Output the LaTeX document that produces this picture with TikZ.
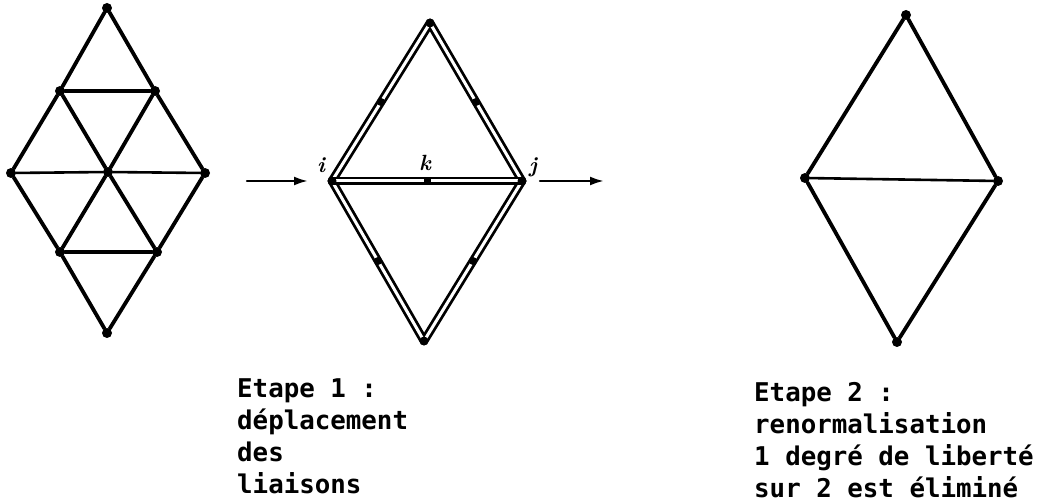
\documentclass[tikz,border=0pt]{standalone}
\usepackage{fontspec}
\setmonofont{DejaVu Sans Mono}
\usetikzlibrary{arrows.meta,calc}
\begin{document}
\begin{tikzpicture}[x=1pt,y=-1pt,line cap=round,line join=round,
  pt/.style={circle,fill,inner sep=0pt,minimum size=10pt},
  bond/.style={line width=3.8pt},
  thin bond/.style={line width=2.6pt},
  dbond/.style={double,line width=2.8pt,double distance=3pt},
  flow/.style={line width=2.4pt,-{Latex[length=14pt,width=9pt]}},
  lab/.style={font=\fontsize{22}{22}\selectfont\bfseries\itshape,inner sep=0pt},
  txt/.style={font=\fontsize{25.8}{32}\selectfont\ttfamily\bfseries,anchor=base west,inner sep=0pt}]
\useasboundingbox (0,0) rectangle (1049,502);
% reseau triangulaire de depart
\foreach \n/\x/\y in {lt/107/8,l1/60/91,l2/155/91,ll/11/173,lc/108/172,lr/205/173,l3/60/252,l4/157/252,lb/107/333}
  {\node[pt] (\n) at (\x,\y) {};}
\foreach \a/\b in {lt/l1,lt/l2,l1/l2,l1/ll,l1/lc,l2/lc,l2/lr,ll/l3,lc/l3,lc/l4,lr/l4,l3/l4,l3/lb,l4/lb}
  {\draw[bond] (\a) -- (\b);}
\draw[thin bond] (ll) -- (lc) -- (lr);
% etape 1 : liaisons deplacees
\coordinate (mt) at (430,23); \coordinate (ml) at (332,181);
\coordinate (mr) at (522,181); \coordinate (mb) at (424,341);
\draw[dbond] (mt) -- (ml) -- (mb) -- (mr) -- cycle;
\draw[dbond] (ml) -- (mr);
\foreach \a/\b [count=\k] in {mt/ml,mt/mr,mb/ml,mb/mr}
  {\node[circle,fill,inner sep=0pt,minimum size=8pt] (d\k) at ($(\a)!0.5!(\b)$) {};}
\node[rectangle,fill,inner sep=0pt,minimum size=7pt] (mc) at ($(ml)!0.5!(mr)$) {};
\foreach \n in {mt,ml,mr,mb} {\fill (\n) circle (4.5pt);}
\node[lab] (li) at (321,165) {i};
\node[lab] (lk) at (425,163) {k};
\node[lab] (lj) at (533,167) {j};
\coordinate (in) at (247,181); \coordinate (out) at (604,181);
\draw[flow,shorten >=24pt] (in) -- (ml);
\draw[flow,shorten <=18pt] (mr) -- (out);
% etape 2 : renormalisation
\foreach \n/\x/\y in {rt/906/15,rl/805/178,rr/998/181,rb/897/342}
  {\node[pt] (\n) at (\x,\y) {};}
\foreach \a/\b in {rt/rl,rt/rr,rl/rb,rr/rb}
  {\draw[bond] (\a) -- (\b);}
\draw[thin bond] (rl) -- (rr);
% legendes
\foreach \t [count=\k] in {Etape 1 :,déplacement,des,liaisons}
  {\node[txt] (e\k) at (237,365+32*\k) {\t};}
\foreach \t [count=\k] in {Etape 2 :,renormalisation,1 degré de liberté,sur 2 est éliminé}
  {\node[txt] (f\k) at (754,369+32*\k) {\t};}
\end{tikzpicture}
\end{document}
